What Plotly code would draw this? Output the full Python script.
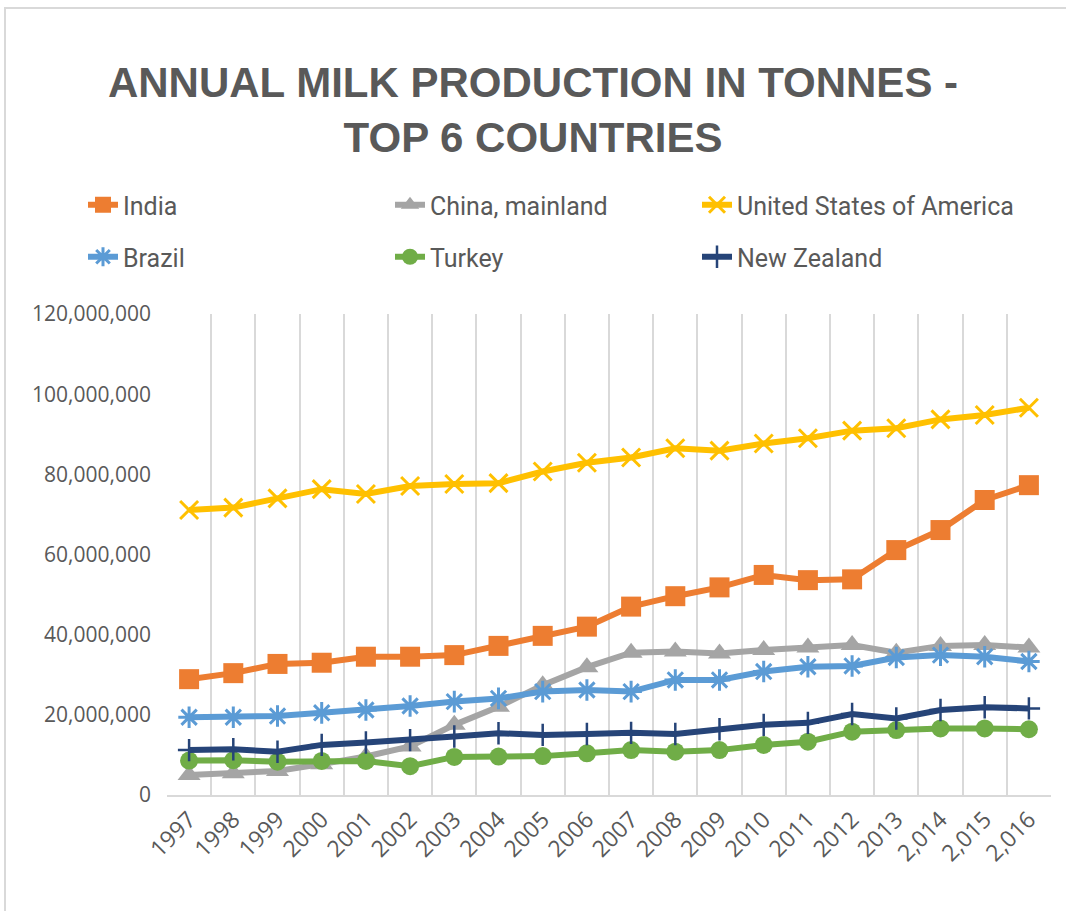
import plotly.graph_objects as go

years = [1997, 1998, 1999, 2000, 2001, 2002, 2003, 2004, 2005, 2006,
         2007, 2008, 2009, 2010, 2011, 2012, 2013, 2014, 2015, 2016]
tick_labels = ["1997", "1998", "1999", "2000", "2001", "2002", "2003", "2004", "2005", "2006",
               "2007", "2008", "2009", "2010", "2011", "2012", "2013", "2,014", "2,015", "2,016"]

india = [28.9e6, 30.4e6, 32.7e6, 33.0e6, 34.5e6, 34.5e6, 34.9e6, 37.2e6, 39.7e6, 42.0e6,
         47.0e6, 49.6e6, 51.8e6, 54.9e6, 53.6e6, 53.8e6, 61.1e6, 66.1e6, 73.6e6, 77.3e6]
china = [5.0e6, 5.4e6, 6.0e6, 7.7e6, 9.6e6, 12.1e6, 17.5e6, 22.0e6, 27.4e6, 31.9e6,
         35.5e6, 35.8e6, 35.3e6, 36.2e6, 36.8e6, 37.4e6, 35.5e6, 37.2e6, 37.4e6, 36.8e6]
usa = [71.1e6, 71.7e6, 74.0e6, 76.3e6, 75.1e6, 77.1e6, 77.6e6, 77.8e6, 80.7e6, 82.9e6,
       84.2e6, 86.5e6, 85.9e6, 87.7e6, 89.0e6, 90.9e6, 91.5e6, 93.7e6, 94.8e6, 96.6e6]
brazil = [19.4e6, 19.4e6, 19.7e6, 20.5e6, 21.2e6, 22.2e6, 23.3e6, 24.1e6, 25.8e6, 26.2e6,
          25.8e6, 28.7e6, 28.7e6, 30.8e6, 32.0e6, 32.2e6, 34.3e6, 34.9e6, 34.5e6, 33.3e6]
turkey = [8.6e6, 8.7e6, 8.3e6, 8.5e6, 8.5e6, 7.2e6, 9.5e6, 9.6e6, 9.7e6, 10.4e6,
          11.2e6, 10.8e6, 11.2e6, 12.5e6, 13.3e6, 15.8e6, 16.2e6, 16.6e6, 16.6e6, 16.4e6]
new_zealand = [11.2e6, 11.4e6, 10.8e6, 12.5e6, 13.1e6, 13.7e6, 14.6e6, 15.4e6, 15.0e6, 15.2e6,
               15.5e6, 15.2e6, 16.4e6, 17.5e6, 18.0e6, 20.2e6, 19.1e6, 21.2e6, 21.9e6, 21.6e6]

x_cats = [str(y) for y in years]
TXT = "#595959"
LEGEND_FONT = "Roboto, Open Sans, sans-serif"

series = [
    ("India", india, "#ED7D31", dict(symbol="square", size=20), "legend", None),
    ("China, mainland", china, "#A5A5A5", dict(symbol="triangle-up", size=20), "legend", None),
    ("United States of America", usa, "#FFC000",
     dict(symbol="x-thin", size=18, line=dict(width=3, color="#FFC000")), "legend", 300),
    ("Brazil", brazil, "#5B9BD5",
     dict(symbol="asterisk", size=18, line=dict(width=3, color="#5B9BD5")), "legend2", None),
    ("Turkey", turkey, "#70AD47", dict(symbol="circle", size=18), "legend2", None),
    ("New Zealand", new_zealand, "#264478",
     dict(symbol="cross-thin", size=16, line=dict(width=2.5, color="#264478")), "legend2", 300),
]

fig = go.Figure()
for name, vals, color, mk, lg, lw in series:
    mk = dict(mk)
    mk.setdefault("color", color)
    tr = go.Scatter(
        x=x_cats, y=vals, name=name, mode="lines+markers",
        line=dict(color=color, width=6), marker=mk, legend=lg,
    )
    if lw:
        tr.legendwidth = lw
    fig.add_trace(tr)

W, H = 1066, 911
ml, mr, mt, mb = 167, 15, 314, 116
pw, ph = W - ml - mr, H - mt - mb

def px_x(p):
    return (p - ml) / pw

def px_y(p):
    return (H - mb - p) / ph

legend_common = dict(
    orientation="h", entrywidth=262, entrywidthmode="pixels",
    font=dict(family=LEGEND_FONT, size=25, color=TXT),
    xanchor="left", yanchor="middle", bgcolor="rgba(0,0,0,0)",
)

fig.update_layout(
    width=W, height=H,
    margin=dict(l=ml, r=mr, t=mt, b=mb),
    paper_bgcolor="white", plot_bgcolor="white",
    title=dict(
        text="ANNUAL MILK PRODUCTION IN TONNES -<br>TOP 6 COUNTRIES",
        x=0.5, xref="container", xanchor="center",
        y=(H - 97) / H, yref="container", yanchor="middle",
        font=dict(family="Liberation Sans, Arial, sans-serif", size=42, color=TXT, weight="bold"),
    ),
    legend=dict(x=px_x(83), y=px_y(205), **legend_common),
    legend2=dict(x=px_x(83), y=px_y(257), **legend_common),
    xaxis=dict(
        type="category", tickson="boundaries",
        tickvals=x_cats, ticktext=tick_labels,
        showgrid=True, gridcolor="#D9D9D9", gridwidth=2,
        showline=True, linecolor="#D9D9D9", linewidth=2,
        ticks="", tickangle=-45,
        tickfont=dict(family="Open Sans, sans-serif", size=23, color=TXT),
        range=[-0.5, len(years) - 0.5],
    ),
    yaxis=dict(
        range=[0, 120e6], tickvals=[0, 20e6, 40e6, 60e6, 80e6, 100e6, 120e6],
        tickformat=",d", showgrid=False, zeroline=False, showline=False,
        ticks="", ticklabelstandoff=15,
        tickfont=dict(family="Open Sans, sans-serif", size=21, color=TXT),
    ),
    shapes=[dict(
        type="rect", xref="paper", yref="paper",
        x0=px_x(5), x1=px_x(1075), y0=px_y(920), y1=px_y(8),
        line=dict(color="#D9D9D9", width=2), fillcolor="rgba(0,0,0,0)", layer="below",
    )],
)

fig.write_html("out.html")
